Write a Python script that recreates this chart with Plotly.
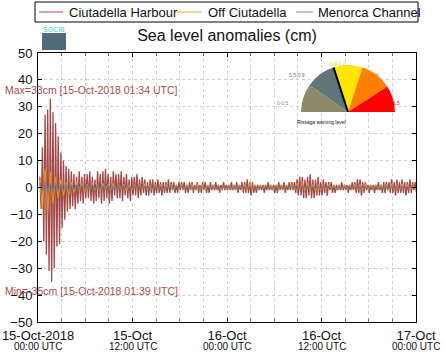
import plotly.graph_objects as go
import pandas as pd

# ---------------- data ----------------
# Ciutadella Harbour: 10-minute samples starting 15-Oct-2018 00:14 UTC
harbour_start = "2018-10-15 00:14"
harbour_step_min = 10
harbour = [
    4, -8, 15, -20, 27, -25, 29, -31, 33, -35, 28, -30,
    24, -22, 19, -21, 13, -15, 10, -12, 8, -9, 7, -8,
    6, -7, 5, -8, 4, -6, 6, -5, 4, -6, 5, -4,
    5, -4, 6, -5, 4, -6, 3, -5, 6, -4, 5, -6,
    6, -5, 7, -4, 5, -6, 4, -5, 6, -3, 5, -4,
    5, -4, 6, -5, 4, -3, 5, -4, 3, -5, 4, -3,
    4, -3, 5, -4, 3, -3, 4, -2, 3, -3, 2, -3,
    3, -2, 3, -3, 2, -2, 3, -2, 2, -3, 2, -2,
    2, -2, 3, -2, 2, -1, 2, -2, 1, -2, 2, -1,
    2, -1, 2, -2, 1, -2, 2, -1, 2, -2, 1, -1,
    2, -2, 1, -2, 2, -1, 2, -2, 1, -2, 2, -1,
    1, -1, 2, -1, 1, -2, 1, -1, 2, -1, 1, -1,
    1, -1, 2, -1, 1, -1, 2, -2, 1, -1, 2, -2,
    2, -2, 3, -2, 2, -3, 2, -2, 1, -2, 1, -1,
    1, -1, 1, -2, 1, -1, 2, -1, 1, -1, 1, -2,
    1, -2, 2, -1, 1, -1, 2, -2, 1, -1, 2, -1,
    2, -1, 2, -2, 3, -3, 4, -3, 4, -4, 3, -4,
    4, -3, 5, -4, 3, -4, 3, -3, 4, -3, 2, -3,
    3, -2, 2, -3, 2, -1, 2, -2, 1, -2, 1, -1,
    1, -1, 2, -1, 1, -1, 1, -2, 1, -1, 2, -1,
    2, -2, 3, -2, 3, -3, 2, -2, 2, -1, 1, -2,
    1, -1, 1, -2, 1, -1, 2, -1, 1, -2, 2, -2,
    2, -1, 2, -2, 3, -2, 2, -3, 3, -2, 2, -2,
    3, -2, 2, -3, 2, -2, 3, -2, 2, -1, 2, -2,
]

# Off Ciutadella: 20-minute samples starting 00:14 UTC
offshore_start = "2018-10-15 00:14"
offshore_step_min = 20
offshore = [
    3, -8, 7, -10, 6, -6,
    4, -4, 3, -3, 2, -3,
    2, -2, 1.8, -1.2, 1.6, -1.8,
    1.2, -1, 1.6, -1.1, 1, -1.5,
    1.6, -0.9, 1.1, -1, 1.5, -0.8,
    1, -0.9, 1.2, -1.4, 0.9, -0.8,
    1, -0.7, 0.9, -1, 1.4, -0.8,
    0.8, -0.9, 1, -0.7, 0.9, -0.8,
    0.9, -0.3, 1, -0.8, 0.8, -0.7,
    0.8, -0.7, 0.9, -0.4, 1, -0.8,
    1.4, -0.8, 0.9, -0.7, 0.8, -0.4,
    0.9, -0.7, 0.8, -0.8, 0.4, -0.7,
    0.8, -0.7, 0.9, -0.8, 1, -0.6,
    0.9, -0.8, 1.5, -0.9, 1, -0.8,
    0.8, -0.3, 0.9, -0.7, 0.8, -0.8,
    0.9, -0.7, 1, -0.8, 0.8, -0.3,
    1, -0.8, 1.6, -0.9, 1.7, -1,
    1.6, -0.9, 1.1, -1.4, 1, -0.9,
    0.9, -0.8, 1, -0.4, 0.9, -0.8,
    0.8, -0.7, 1, -0.8, 0.9, -0.4,
    1, -0.8, 1.1, -0.9, 1.5, -0.8,
    0.9, -0.3, 1, -0.8, 0.9, -0.7,
    1, -0.8, 1.2, -0.9, 1, -0.8,
    1.4, -0.8, 1, -0.9, 0.8, -0.4,
]

# Menorca Channel: 20-minute samples starting 00:14 UTC
channel_start = "2018-10-15 00:14"
channel_step_min = 20
channel = [
    1.5, -1.2, 2.0, -1.8, 1.6, -1.5,
    1.4, -1.2, 1.3, -1.0, 1.2, -1.1,
    1.0, -0.9, 1.1, -0.8, 0.9, -0.8,
    0.8, -0.7, 0.9, -0.6, 0.7, -0.7,
    0.7, -0.6, 0.8, -0.5, 0.6, -0.6,
    0.6, -0.5, 0.6, -0.5, 0.5, -0.5,
    0.5, -0.4, 0.5, -0.4, 0.4, -0.4,
    0.4, -0.4, 0.4, -0.3, 0.4, -0.4,
    0.3, -0.3, 0.4, -0.3, 0.3, -0.3,
    0.3, -0.3, 0.3, -0.3, 0.3, -0.2,
    0.3, -0.3, 0.3, -0.2, 0.3, -0.3,
    0.2, -0.3, 0.3, -0.2, 0.2, -0.3,
    0.3, -0.2, 0.3, -0.3, 0.2, -0.2,
    0.3, -0.3, 0.3, -0.2, 0.3, -0.3,
    0.2, -0.2, 0.3, -0.3, 0.2, -0.2,
    0.3, -0.2, 0.2, -0.3, 0.3, -0.2,
    0.3, -0.3, 0.4, -0.3, 0.4, -0.3,
    0.4, -0.3, 0.3, -0.4, 0.3, -0.3,
    0.3, -0.2, 0.3, -0.3, 0.2, -0.2,
    0.2, -0.3, 0.3, -0.2, 0.3, -0.2,
    0.3, -0.3, 0.3, -0.2, 0.3, -0.3,
    0.2, -0.2, 0.3, -0.3, 0.2, -0.3,
    0.3, -0.2, 0.3, -0.3, 0.3, -0.2,
    0.3, -0.3, 0.2, -0.2, 0.3, -0.3,
]

series_names = ["Ciutadella Harbour", "Off Ciutadella", "Menorca Channel"]
series_colors = ["rgba(140,32,32,0.82)", "rgba(236,152,22,0.9)", "rgba(112,122,155,0.95)"]
legend_colors = ["#d4868e", "#f3c57c", "#a9b0d6"]

x_tick_vals = ["2018-10-15 00:00", "2018-10-15 12:00", "2018-10-16 00:00",
               "2018-10-16 12:00", "2018-10-17 00:00"]
x_tick_dates = ["15-Oct-2018", "15-Oct", "16-Oct", "16-Oct", "17-Oct"]
x_tick_times = ["00:00 UTC", "12:00 UTC", "00:00 UTC", "12:00 UTC", "00:00 UTC"]

max_label = "Max=33cm [15-Oct-2018 01:34 UTC]"
min_label = "Min=-35cm [15-Oct-2018 01:39 UTC]"

# warning gauge (decorative) sectors: centre angle, width (degrees)
gauge_theta = [162.5, 126.5, 90, 52.5, 16.5]
gauge_width = [35, 37, 36, 39, 33]
gauge_colors = ["#8b8b6b", "#5e7676", "#ffe600", "#ff8000", "#ff0000"]
needle_angle = 108

# ---------------- figure ----------------
def times(start, step, n):
    return pd.date_range(start=start, periods=n, freq=f"{step}min")

FONT = "Liberation Sans, Arial, Helvetica, sans-serif"

fig = go.Figure()
for name, vals, start, step, col, w in [
        (series_names[0], harbour, harbour_start, harbour_step_min, series_colors[0], 1.3),
        (series_names[1], offshore, offshore_start, offshore_step_min, series_colors[1], 1.2),
        (series_names[2], channel, channel_start, channel_step_min, series_colors[2], 1.2)]:
    fig.add_trace(go.Scatter(x=times(start, step, len(vals)), y=vals,
                             mode="lines", name=name, showlegend=False,
                             line=dict(color=col, width=w)))

# gauge
fig.add_trace(go.Barpolar(
    r=[1] * len(gauge_theta), theta=gauge_theta, width=gauge_width,
    marker=dict(color=gauge_colors, line=dict(width=0)),
    showlegend=False, subplot="polar", hoverinfo="skip"))
fig.add_trace(go.Scatterpolar(
    r=[0, 1], theta=[needle_angle, needle_angle], mode="lines",
    line=dict(color="black", width=2), showlegend=False,
    subplot="polar", hoverinfo="skip"))

L, R, T, B = 38, 28, 53, 37
W, H = 444, 359
pw, ph = W - L - R, H - T - B

def px(xp):
    return (xp - L) / pw

def py(yp):
    return (H - B - yp) / ph

fig.update_layout(
    width=W, height=H,
    margin=dict(l=L, r=R, t=T, b=B, autoexpand=False),
    paper_bgcolor="white", plot_bgcolor="white",
    font=dict(family=FONT, color="#111"),
    title=dict(text="Sea level anomalies (cm)", x=0.5, xref="paper",
               y=1 - 35 / H, yanchor="middle",
               font=dict(size=16, family=FONT, color="#111")),
    showlegend=False,
    polar=dict(domain=dict(x=[px(301), px(395)], y=[py(112), py(65)]),
               sector=[0, 180], hole=0, bgcolor="rgba(0,0,0,0)",
               radialaxis=dict(visible=False, range=[0, 1]),
               angularaxis=dict(visible=False)),
)

fig.update_xaxes(
    range=["2018-10-15 00:00", "2018-10-17 00:00"],
    tickmode="array", tickvals=x_tick_vals, ticktext=x_tick_dates,
    tickfont=dict(size=13, family=FONT, color="#111"),
    ticks="inside", ticklen=4, tickcolor="black",
    showline=True, linecolor="black", linewidth=1, mirror="ticks",
    showgrid=True, gridcolor="#d0d0d0", griddash="dot", gridwidth=1,
    minor=dict(dtick=3 * 3600 * 1000, showgrid=True, gridcolor="#d0d0d0",
               griddash="dot", ticks="inside", ticklen=3, tickcolor="#666"),
    zeroline=False, ticklabelstandoff=1,
)
fig.update_yaxes(
    range=[-50, 50], dtick=10, tick0=0,
    tickfont=dict(size=13, family=FONT, color="#111"),
    ticks="inside", ticklen=4, tickcolor="black",
    showline=True, linecolor="black", linewidth=1, mirror="ticks",
    showgrid=True, gridcolor="#d0d0d0", griddash="dot", gridwidth=1,
    zeroline=False, ticklabelstandoff=2,
)

# legend box (drawn by hand so the entries fit on one row)
fig.add_shape(type="rect", xref="paper", yref="paper",
              x0=px(35), x1=px(418), y0=py(22), y1=py(2),
              fillcolor="white", line=dict(color="black", width=1))
for (lx0, lx1, tx), name, col in zip([(39, 63, 67), (177, 202, 206), (296, 313, 316)],
                                     series_names, legend_colors):
    fig.add_shape(type="line", xref="paper", yref="paper",
                  x0=px(lx0), x1=px(lx1), y0=py(12), y1=py(12),
                  line=dict(color=col, width=1.5))
    fig.add_annotation(text=name, xref="paper", yref="paper",
                       x=px(tx), y=py(12.5), xanchor="left", yanchor="middle",
                       showarrow=False,
                       font=dict(size=13, family=FONT, color="#111"))

# white backdrop behind gauge
fig.add_shape(type="rect", xref="paper", yref="paper",
              x0=px(282), x1=px(410), y0=py(122), y1=py(56),
              fillcolor="white", line=dict(width=0), layer="between")

# SOCIB logo
fig.add_shape(type="rect", xref="paper", yref="paper",
              x0=px(42), x1=px(66), y0=py(50), y1=py(33),
              fillcolor="#4d6b7a", line=dict(width=0), layer="above")
fig.add_annotation(text="SOCIB", xref="paper", yref="paper",
                   x=px(54), y=py(29.5), xanchor="center", yanchor="middle",
                   showarrow=False,
                   font=dict(size=7, family=FONT, color="#4ec3d6"))

# time sub-labels
for tv, tt in zip(x_tick_vals, x_tick_times):
    fig.add_annotation(text=tt, xref="x", yref="paper", x=tv, y=py(346),
                       yanchor="middle", showarrow=False,
                       font=dict(size=10, family=FONT, color="#111"))

# max/min labels
fig.add_annotation(text=max_label, xref="paper", yref="paper",
                   x=px(3), y=py(90), xanchor="left", yanchor="middle",
                   showarrow=False,
                   font=dict(size=10.5, family=FONT, color="#b24a4a"))
fig.add_annotation(text=min_label, xref="paper", yref="paper",
                   x=px(3), y=py(291), xanchor="left", yanchor="middle",
                   showarrow=False,
                   font=dict(size=10.5, family=FONT, color="#b24a4a"))

# tiny gauge labels
for txt, xx, yy, col in [("0-0.5", 291, 98, "#8b8b6b"),
                         ("0.5-0.9", 307, 70, "#5e7676"),
                         ("0.9-1.2", 348, 59, "#e0c800"),
                         ("1.2-1.5", 381, 70, "#ff8000"),
                         (">1.5", 402, 98, "#ff0000"),
                         ("Rissaga warning level", 348, 117, "#111")]:
    fig.add_annotation(text=txt, xref="paper", yref="paper", x=px(xx), y=py(yy),
                       showarrow=False, font=dict(size=5, family=FONT, color=col))

fig.write_html("out.html", config={"displayModeBar": False},
               post_script="document.body.style.margin='0';document.body.style.padding='0';")
